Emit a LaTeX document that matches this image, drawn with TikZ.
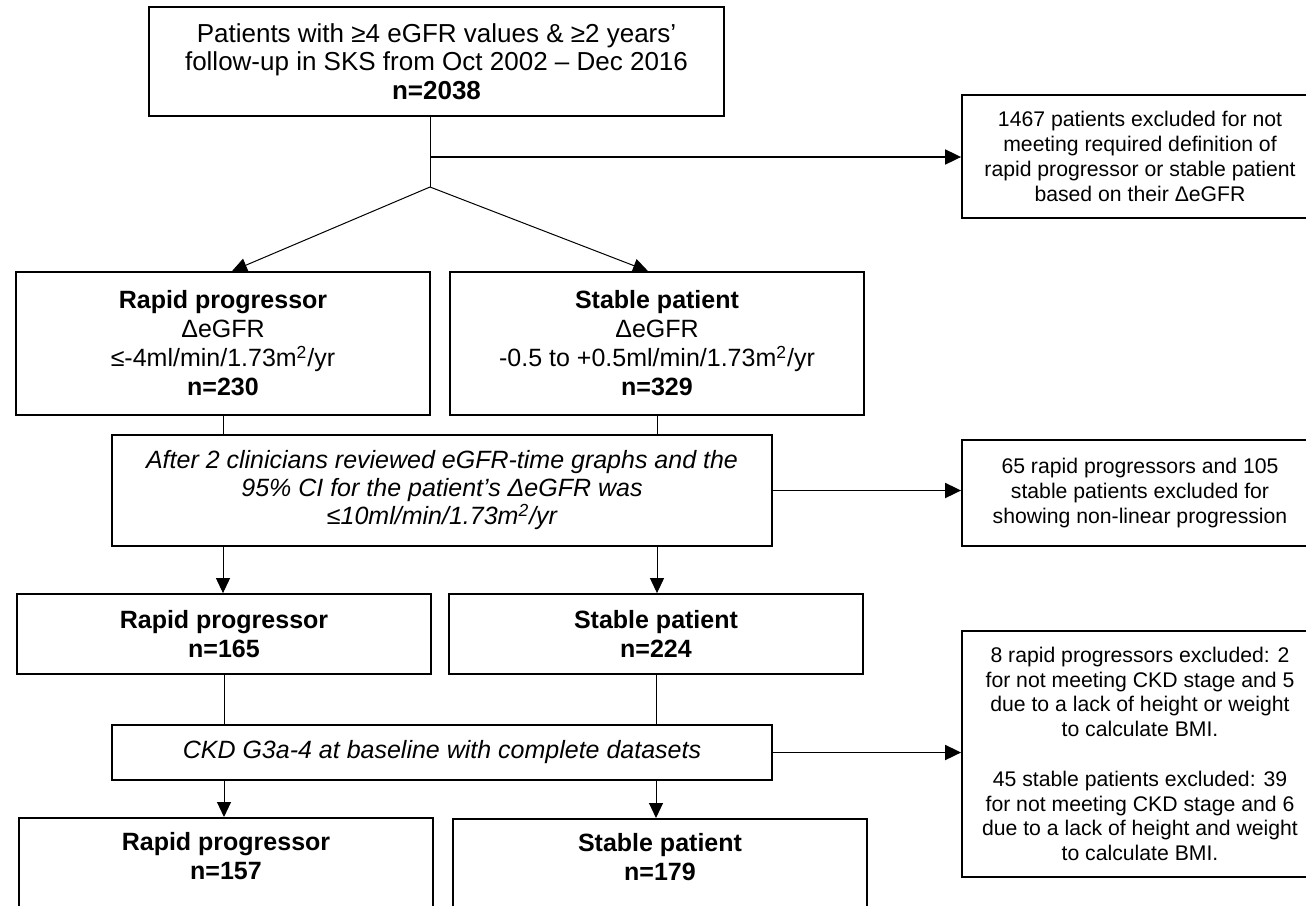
\documentclass[tikz,border=0pt]{standalone}
\usepackage{fontspec}
\setmainfont{Liberation Sans}
\usetikzlibrary{arrows.meta,calc}

\begin{document}
\begin{tikzpicture}[x=0.5pt, y=-0.5pt,
    box/.style={draw, line width=0.9pt, align=center, inner sep=0pt, font=\fontsize{12.5}{14.5}\selectfont},
    exbox/.style={draw, line width=0.9pt, align=center, inner sep=0pt, minimum width=178pt, font=\fontsize{10.6}{12.4}\selectfont},
    link/.style={line width=0.5pt},
    arr/.style={line width=0.5pt, -{Triangle[length=7.5pt, width=7pt]}},
    exarr/.style={line width=0.9pt, -{Triangle[length=8pt, width=7.5pt]}}]
    \useasboundingbox (0,0) rectangle (1306,905);
    \clip (0,0) rectangle (1306,905);
    % boxes
    \node[box, minimum width=287.5pt, minimum height=54.5pt, font=\fontsize{13}{14.3}\selectfont] (top) at (436.5,61.5)
        {Patients with ≥4 eGFR values \& ≥2 years’\\follow-up in SKS from Oct 2002 – Dec 2016\\\textbf{n=2038}};
    \node[exbox, minimum height=61.5pt] (ex1) at (1140,156.5)
        {1467 patients excluded for not\\meeting required definition of\\rapid progressor or stable patient\\based on their ΔeGFR};
    \node[box, minimum width=207pt, minimum height=71.5pt] (rp1) at (223,343.5)
        {\textbf{Rapid progressor}\\ΔeGFR\\≤-4ml/min/1.73m\textsuperscript{2}/yr\\\textbf{n=230}};
    \node[box, minimum width=207pt, minimum height=71.5pt] (sp1) at (657,343.5)
        {\textbf{Stable patient}\\ΔeGFR\\-0.5 to +0.5ml/min/1.73m\textsuperscript{2}/yr\\\textbf{n=329}};
    \node[box, minimum width=330pt, minimum height=55.5pt, font=\fontsize{12.5}{14}\selectfont\itshape] (rev) at (442,490.5)
        {After 2 clinicians reviewed eGFR-time graphs and the\\95\% CI for the patient’s ΔeGFR was\\≤10ml/min/1.73m\textsuperscript{2}/yr};
    \node[exbox, minimum height=53pt] (ex2) at (1140,493)
        {65 rapid progressors and 105\\stable patients excluded for\\showing non-linear progression};
    \node[box, minimum width=207pt, minimum height=40pt] (rp2) at (224,634)
        {\textbf{Rapid progressor}\\\textbf{n=165}};
    \node[box, minimum width=207pt, minimum height=40pt] (sp2) at (656,634)
        {\textbf{Stable patient}\\\textbf{n=224}};
    \node[box, minimum width=330pt, minimum height=27.5pt, font=\fontsize{12.5}{14.5}\selectfont\itshape] (ckd) at (442,752.5)
        {CKD G3a-4 at baseline with complete datasets};
    \node[exbox, minimum height=123pt] (ex3) at (1140,754)
        {8 rapid progressors excluded: 2\\for not meeting CKD stage and 5\\due to a lack of height or weight\\to calculate BMI.\\[12.4pt]
         45 stable patients excluded: 39\\for not meeting CKD stage and 6\\due to a lack of height and weight\\to calculate BMI.};
    \node[box, minimum width=207pt, anchor=north] (rp3) at (226,817)
        {\rule{0pt}{16.5pt}\textbf{Rapid progressor}\\\textbf{n=157}\\[30pt]\mbox{}};
    \node[box, minimum width=207pt, anchor=north] (sp3) at (660,818)
        {\rule{0pt}{16.5pt}\textbf{Stable patient}\\\textbf{n=179}\\[30pt]\mbox{}};
    % connectors
    \coordinate (branch) at (430,157);
    \coordinate (split) at (430,187);
    \draw[link] (top.south -| split) -- (split);
    \draw[exarr] (branch) -- (branch -| ex1.west);
    \draw[arr] (split) -- ($(rp1.north)+(9,0)$);
    \draw[arr] (split) -- ($(sp1.north)+(-9,0)$);
    \draw[link] (rp1.south) -- (rp1.south |- rev.north);
    \draw[link] (sp1.south) -- (sp1.south |- rev.north);
    \draw[exarr] (rev.east) -- (rev.east -| ex2.west);
    \draw[arr] (rp1.south |- rev.south) -- (rp1.south |- rp2.north);
    \draw[arr] (sp1.south |- rev.south) -- (sp1.south |- sp2.north);
    \draw[link] (rp2.south) -- (rp2.south |- ckd.north);
    \draw[link] (sp2.south) -- (sp2.south |- ckd.north);
    \draw[exarr] (ckd.east) -- (ckd.east -| ex3.west);
    \draw[arr] (rp2.south |- ckd.south) -- (rp2.south |- rp3.north);
    \draw[arr] (sp2.south |- ckd.south) -- (sp2.south |- sp3.north);
\end{tikzpicture}
\end{document}
